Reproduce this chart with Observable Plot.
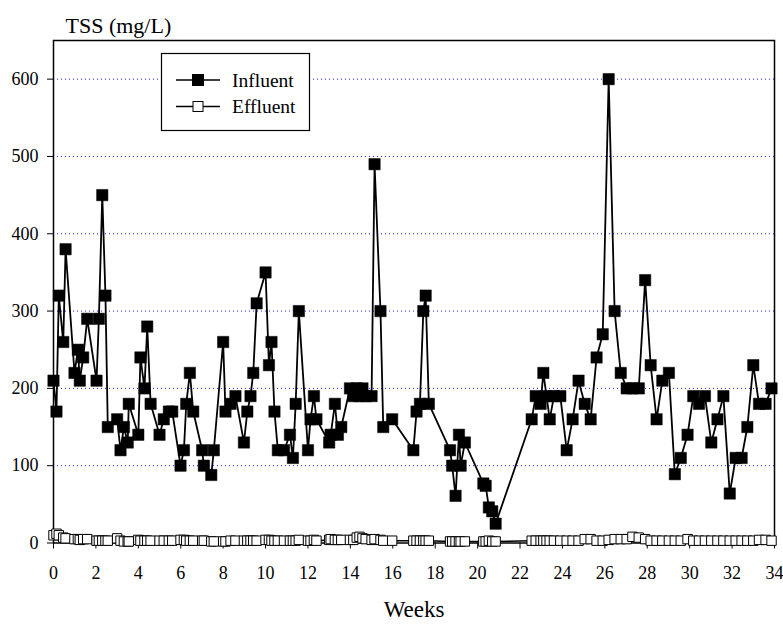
<!DOCTYPE html>
<html>
<head>
<meta charset="utf-8">
<script src="https://cdn.jsdelivr.net/npm/d3@7"></script>
<script src="https://cdn.jsdelivr.net/npm/@observablehq/plot@0.6"></script>
<style>
  html, body { margin: 0; padding: 0; background: white; }
  #chart { width: 783px; height: 626px; }
  #chart svg, #chart svg text { font-family: "Liberation Serif", "Times New Roman", Tinos, "DejaVu Serif", serif !important; }
</style>
</head>
<body>
<div id="chart"></div>
<script>
const weeks = [0.00,0.14,0.25,0.46,0.57,0.99,1.15,1.24,1.40,1.59,2.03,2.14,2.30,2.45,2.56,3.00,3.16,3.32,3.50,3.55,
  4.00,4.10,4.29,4.42,4.58,5.00,5.20,5.44,5.60,5.99,6.15,6.26,6.43,6.59,7.01,7.09,7.44,7.56,8.00,8.11,
  8.35,8.58,8.98,9.14,9.29,9.42,9.58,10.00,10.16,10.28,10.42,10.58,10.87,11.15,11.29,11.42,11.57,12.00,12.12,12.28,
  12.40,13.00,13.07,13.27,13.41,13.57,13.98,14.14,14.30,14.43,14.57,14.72,15.00,15.14,15.42,15.55,15.97,16.97,17.12,17.28,
  17.44,17.55,17.70,18.70,18.80,18.96,19.12,19.20,19.40,20.27,20.38,20.53,20.69,20.85,22.55,22.74,22.97,23.10,23.25,23.40,
  23.60,23.90,24.20,24.48,24.76,25.05,25.33,25.61,25.90,26.18,26.46,26.75,27.03,27.30,27.60,27.90,28.16,28.44,28.71,29.02,
  29.30,29.58,29.90,30.17,30.44,30.72,31.02,31.31,31.59,31.89,32.17,32.45,32.72,33.00,33.27,33.58,33.86];

const influent = [210,170,320,260,380,220,250,210,240,290,210,290,450,320,150,160,120,150,130,180,
  140,240,200,280,180,140,160,170,170,100,120,180,220,170,120,100,88,120,260,170,
  180,190,130,170,190,220,310,350,230,260,170,120,120,140,110,180,300,120,160,190,
  160,130,140,180,140,150,200,190,200,190,200,190,190,490,300,150,160,120,170,180,
  300,320,180,120,100,61,140,100,130,77,74,46,41,25,160,190,180,220,190,160,
  190,190,120,160,210,180,160,240,270,600,300,220,200,200,200,340,230,160,210,220,
  89,110,140,190,180,190,130,160,190,64,110,110,150,230,180,180,200];

const effluent = [10,12,10,7,6,5,5,4,5,5,3,3,3,3,3,6,3,2,2,2,
  4,3,3,3,3,3,3,3,3,4,4,3,3,3,3,3,2,2,2,2,
  3,3,3,3,3,3,3,4,4,3,3,3,3,3,3,3,4,3,3,4,
  3,4,5,4,4,4,4,4,7,8,6,5,4,5,4,3,3,3,3,3,
  3,3,3,2,2,2,2,2,2,2,2,3,2,2,3,3,3,3,3,3,
  3,3,3,3,3,5,5,3,3,4,5,5,5,8,7,5,3,3,3,3,
  3,3,5,3,3,3,3,3,3,3,3,3,3,3,4,4,3];

const xTicks = d3.range(0, 35, 2);
const yTicks = [0, 100, 200, 300, 400, 500, 600];
const gridValues = [100, 200, 300, 400, 500, 600];
const seriesNames = ["Influent", "Effluent"];

const inflRows = weeks.map((w, i) => ({week: w, value: influent[i]}));
const effRows = weeks.map((w, i) => ({week: w, value: effluent[i]}));

const svg = Plot.plot({
  width: 783,
  height: 626,
  marginLeft: 53,
  marginRight: 9,
  marginTop: 40,
  marginBottom: 83.5,
  style: {fontSize: "18px", color: "black", background: "white", overflow: "visible"},
  x: {domain: [0, 34], ticks: xTicks, tickSize: 6, tickPadding: 17, label: null, tickFormat: d => String(d)},
  y: {domain: [0, 650], ticks: yTicks, tickSize: 6, tickPadding: 9, label: null, tickFormat: d => String(d)},
  marks: [
    Plot.ruleY(gridValues, {stroke: "#2020ff", strokeWidth: 1, strokeDasharray: "1,3"}),
    Plot.frame({stroke: "black", strokeWidth: 1.5}),
    Plot.line(effRows, {x: "week", y: "value", stroke: "black", strokeWidth: 1.5}),
    Plot.dot(effRows, {x: "week", y: "value", symbol: "square", r: 5.3, fill: "white", stroke: "black", strokeWidth: 1}),
    Plot.line(inflRows, {x: "week", y: "value", stroke: "black", strokeWidth: 1.8}),
    Plot.dot(inflRows, {x: "week", y: "value", symbol: "square", r: 6.4, fill: "black", stroke: "black", strokeWidth: 0.5}),
    Plot.text(["TSS (mg/L)"], {frameAnchor: "top-left", dx: 12, dy: -23, textAnchor: "start", fontSize: 22}),
    Plot.text(["Weeks"], {frameAnchor: "bottom", dy: 74, fontSize: 23})
  ]
});

// Legend drawn inside the SVG
const s = d3.select(svg);
const lg = s.append("g").attr("font-size", 19.5).attr("text-anchor", "start");
lg.append("rect").attr("x", 161.5).attr("y", 53.5).attr("width", 148).attr("height", 77)
  .attr("fill", "white").attr("stroke", "black").attr("stroke-width", 1.2);
seriesNames.forEach((name, i) => {
  const y = 80 + i * 26.5;
  lg.append("line").attr("x1", 176).attr("x2", 220).attr("y1", y).attr("y2", y)
    .attr("stroke", "black").attr("stroke-width", 1.5);
  const side = i === 0 ? 11 : 10;
  lg.append("rect").attr("x", 198 - side / 2).attr("y", y - side / 2).attr("width", side).attr("height", side)
    .attr("fill", i === 0 ? "black" : "white").attr("stroke", "black").attr("stroke-width", 1);
  lg.append("text").attr("x", 232).attr("y", y).attr("dy", "0.35em").attr("text-anchor", "start")
    .attr("fill", "black").text(name);
});

document.getElementById("chart").appendChild(svg);
</script>
</body>
</html>
